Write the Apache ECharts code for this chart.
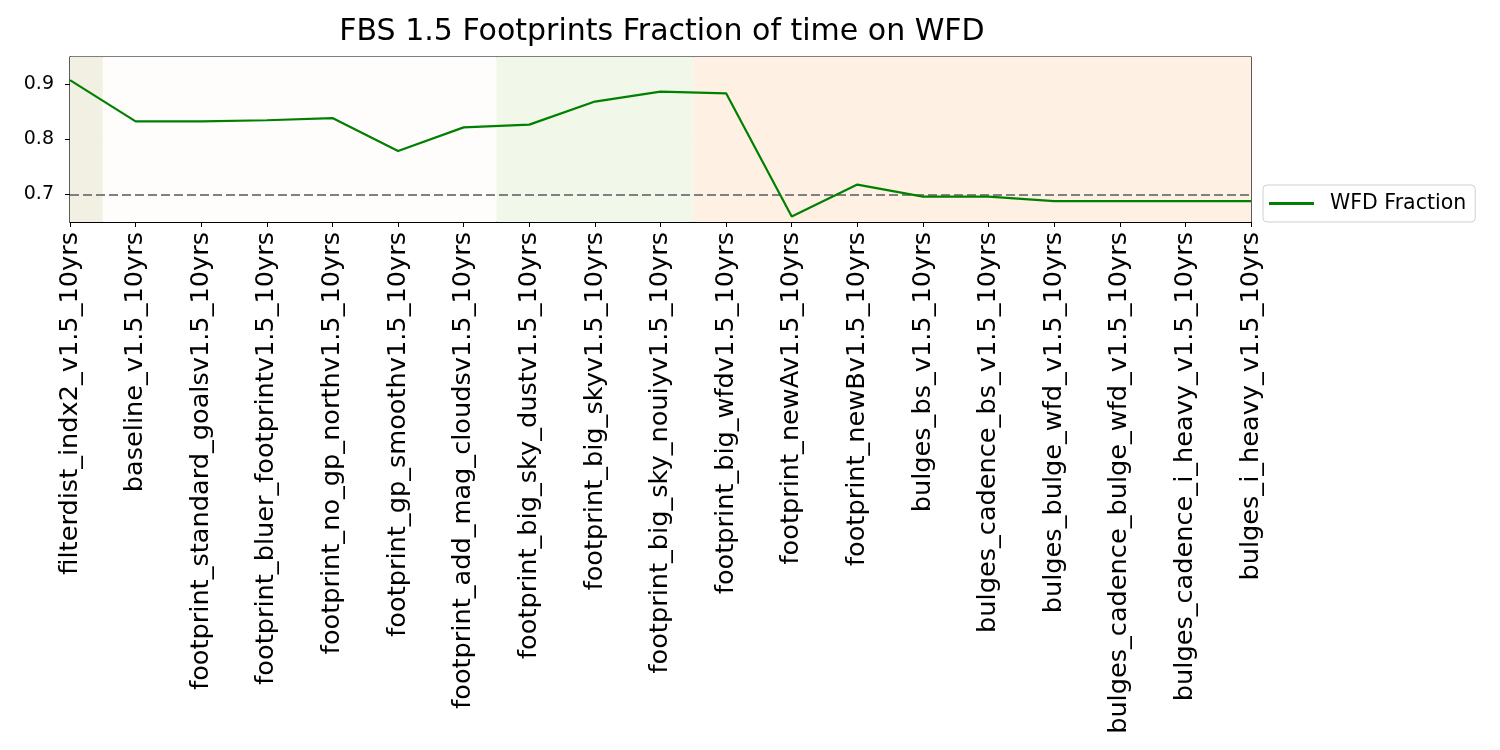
<!DOCTYPE html>
<html><head><meta charset="utf-8">
<script src="https://cdn.jsdelivr.net/npm/echarts@6/dist/echarts.min.js"></script>
<style>html,body{margin:0;padding:0;background:#fff}#c{width:1500px;height:750px}</style>
</head><body><div id="c"></div>
<script>
const categories = [
 "filterdist_indx2_v1.5_10yrs","baseline_v1.5_10yrs","footprint_standard_goalsv1.5_10yrs",
 "footprint_bluer_footprintv1.5_10yrs","footprint_no_gp_northv1.5_10yrs","footprint_gp_smoothv1.5_10yrs",
 "footprint_add_mag_cloudsv1.5_10yrs","footprint_big_sky_dustv1.5_10yrs","footprint_big_skyv1.5_10yrs",
 "footprint_big_sky_nouiyv1.5_10yrs","footprint_big_wfdv1.5_10yrs","footprint_newAv1.5_10yrs",
 "footprint_newBv1.5_10yrs","bulges_bs_v1.5_10yrs","bulges_cadence_bs_v1.5_10yrs",
 "bulges_bulge_wfd_v1.5_10yrs","bulges_cadence_bulge_wfd_v1.5_10yrs","bulges_cadence_i_heavy_v1.5_10yrs",
 "bulges_i_heavy_v1.5_10yrs"];
const wfdFraction = [0.908,0.833,0.833,0.835,0.839,0.779,0.822,0.827,0.869,0.887,0.884,0.660,0.718,0.696,0.696,0.688,0.688,0.688,0.688];
const yTicks = [0.7,0.8,0.9];
const threshold = 0.7;
// shaded groups: [startIndex-0.5 .. endIndex+0.5]
const groupStarts = [0, 1, 7, 10];
const groupEnds = [0, 6, 9, 18];
const groupColors = ["#f1f0e2","#fefdfb","#f1f8e9","#fef1e3"];

const chart = echarts.init(document.getElementById('c'));
const n = categories.length;
const areas = groupStarts.map((s,i)=>[
  {xAxis: Math.max(s-0.5,0), itemStyle:{color:groupColors[i]}},
  {xAxis: Math.min(groupEnds[i]+0.5,n-1)}
]);
chart.setOption({
  animation:false,
  textStyle:{fontFamily:'DejaVu Sans'},
  title:{text:'FBS 1.5 Footprints Fraction of time on WFD',left:657,top:12,textAlign:'center',
    textStyle:{fontSize:30,fontWeight:'normal',color:'#000',fontFamily:'DejaVu Sans'}},
  grid:{left:70,right:249,top:57,bottom:528,show:true,borderColor:'#000',borderWidth:1.2,backgroundColor:'transparent'},
  legend:{left:1263,top:185,orient:'vertical',data:['WFD Fraction'],
    itemWidth:45,itemHeight:3,padding:[8,9,8,6],itemGap:5,
    borderColor:'#d0d0d0',borderWidth:1,borderRadius:4,backgroundColor:'#fff',
    textStyle:{fontSize:20.5,color:'#000',fontFamily:'DejaVu Sans',padding:[0,0,0,11]},
    icon:'rect'},
  xAxis:{type:'value',min:0,max:n-1,interval:1,
    axisLine:{show:true,onZero:false,lineStyle:{color:'#000',width:1.2}},
    axisTick:{show:true,length:5,lineStyle:{color:'#000'}},
    splitLine:{show:true,lineStyle:{color:'rgba(0,0,0,0.1)'}},
    axisLabel:{rotate:90,fontSize:25.6,color:'#000',margin:10,
      formatter:(v)=>categories[Math.round(v)]||''}},
  yAxis:{type:'value',min:0.65,max:0.95,
    axisLine:{show:true,lineStyle:{color:'#000',width:1.2}},
    axisTick:{show:true,length:5,lineStyle:{color:'#000'},customValues:yTicks},
    axisLabel:{fontSize:19,color:'#000',margin:16,customValues:yTicks,formatter:(v)=>v.toFixed(1)},
    splitLine:{show:true,lineStyle:{color:'rgba(0,0,0,0.1)'}}},
  series:[{
    name:'WFD Fraction',type:'line',
    data:wfdFraction.map((v,i)=>[i,v]),
    showSymbol:false,symbol:'none',
    lineStyle:{color:'#008000',width:2.2},itemStyle:{color:'#008000'},
    markArea:{silent:true,data:areas,itemStyle:{opacity:1}},
    markLine:{silent:true,symbol:'none',label:{show:false},
      lineStyle:{color:'#808080',type:[9,4],width:2.2},
      data:[{yAxis:threshold}]},
    z:5
  }]
});
</script></body></html>
